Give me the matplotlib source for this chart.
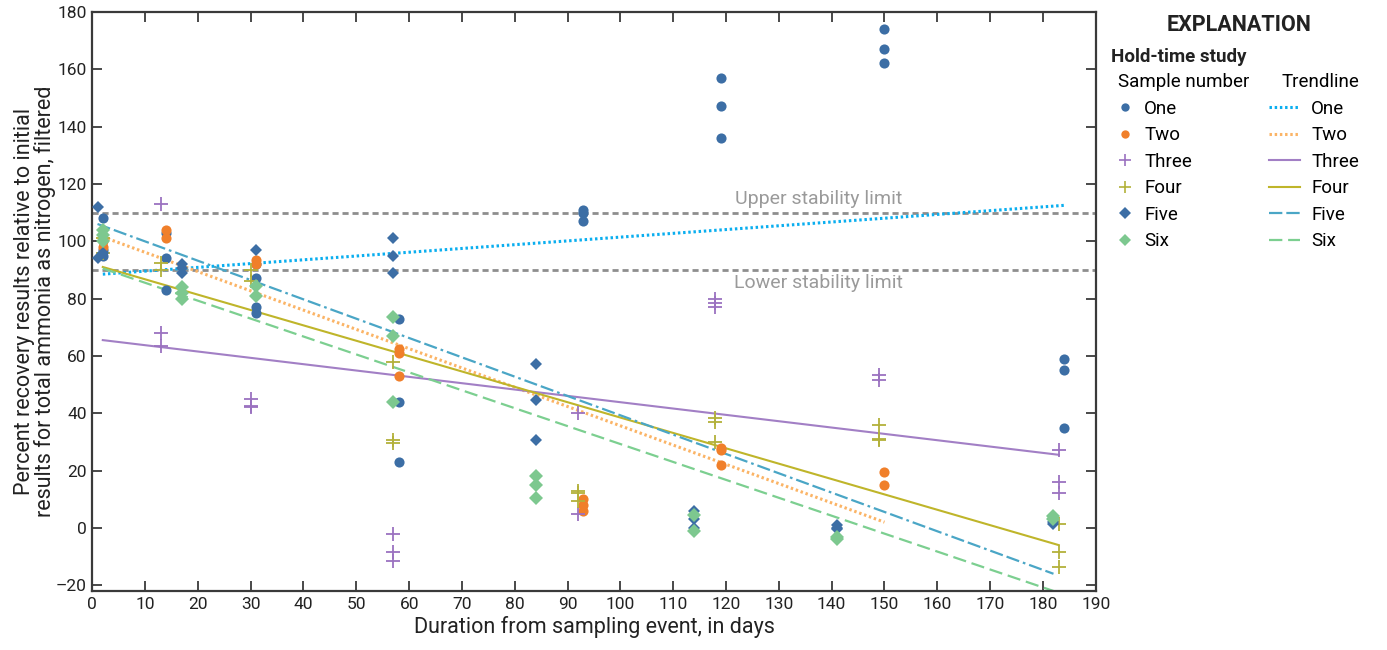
import matplotlib
matplotlib.use("Agg")
import matplotlib.pyplot as plt
from matplotlib.lines import Line2D
from matplotlib import font_manager

names = {f.name for f in font_manager.fontManager.ttflist}
FONT = ["Liberation Sans Narrow", "DejaVu Sans"] if "Liberation Sans Narrow" in names else ["Roboto", "DejaVu Sans"]
plt.rcParams["font.family"] = FONT

# ---- data ----
one_x = [2, 2, 2, 14, 14, 14, 31, 31, 31, 31, 58, 58, 58, 93, 93, 93, 119, 119, 119, 150, 150, 150, 184, 184, 184]
one_y = [108, 97, 95, 103, 94, 83, 92, 87, 77, 75, 73, 44, 23, 111, 110, 107, 157, 147, 136, 174, 167, 162, 59, 55, 35]

two_x = [2, 2, 14, 14, 31, 31, 58, 58, 58, 93, 93, 93, 119, 119, 119, 150, 150]
two_y = [100, 98, 104, 101, 93.5, 92, 62.5, 61, 53, 10, 8, 6, 28, 27, 22, 19.5, 15]

three_x = [13, 13, 13, 30, 30, 30, 57, 57, 57, 92, 92, 118, 118, 118, 149, 149, 183, 183, 183]
three_y = [113, 68, 63.5, 45, 42.5, 42, -2, -8.5, -11.5, 40, 5, 80, 78.5, 77, 53.5, 51.5, 27, 16, 12]

four_x = [2, 2, 13, 13, 30, 30, 57, 57, 57, 92, 92, 92, 118, 118, 118, 149, 149, 149, 183, 183, 183]
four_y = [101, 96, 92.5, 90, 90, 86, 58, 30.5, 29.5, 13, 12, 9.5, 38.5, 37, 30, 36, 31, 30.5, 1.5, -8.5, -13.5]

five_x = [1, 1, 2, 17, 17, 17, 31, 57, 57, 57, 84, 84, 84, 114, 114, 114, 141, 141, 141, 182, 182, 182]
five_y = [112, 94, 96, 92, 90.5, 89, 97, 101, 95, 89, 57, 44.5, 30.5, 6, 3, 0, 1, 0, -0.5, 3, 2, 1.5]

six_x = [2, 2, 2, 17, 17, 17, 31, 31, 57, 57, 57, 84, 84, 84, 114, 114, 141, 141, 182, 182]
six_y = [104, 102, 100, 84, 82, 80, 84.5, 81, 73.5, 67, 44, 18, 15, 10.5, 4.5, -1, -3, -4, 4, 3]

labels = ["One", "Two", "Three", "Four", "Five", "Six"]

# trendlines: start and end values
trend_x0 = [2, 2, 2, 2, 1, 2]
trend_x1 = [184, 150, 183, 183, 182, 182]
trend_y0 = [88.5, 101.5, 65.5, 91, 106, 90.5]
trend_y1 = [112.5, 2, 25.5, -6, -16, -22]

upper_limit = 110
lower_limit = 90

# ---- styles ----
pt_colors = ["#3c6ea5", "#f07f2a", "#9b72c0", "#b3b13a", "#3c6ea5", "#7dc88f"]
pt_markers = ["o", "o", "+", "+", "D", "D"]
pt_sizes = [7.3, 7.3, 9.5, 9.5, 6.3, 6.8]
tr_colors = ["#0aaeef", "#fbb466", "#a27fc5", "#bfb52a", "#4aa6c6", "#7ccf90"]
tr_styles = [(0, (0.8, 0.9)), (0, (0.8, 0.9)), "-", "-", (0, (6, 1.8, 6, 1.8, 1.2, 1.8)), (0, (6, 2.6))]
tr_widths = [2.2, 2.2, 1.5, 1.5, 1.6, 1.6]

xs = [one_x, two_x, three_x, four_x, five_x, six_x]
ys = [one_y, two_y, three_y, four_y, five_y, six_y]

fig = plt.figure(figsize=(13.87, 6.5), dpi=100)
ax = fig.add_axes([0.0665, 0.0908, 0.7235, 0.891])

ax.axhline(upper_limit, color="#8e8e8e", lw=2, ls=(0, (2.2, 1.4)), zorder=1)
ax.axhline(lower_limit, color="#8e8e8e", lw=2, ls=(0, (2.2, 1.4)), zorder=1)
ax.text(137.5, upper_limit + 1.5, "Upper stability limit", color="#9a9a9a", fontsize=14, ha="center", va="bottom")
ax.text(137.5, lower_limit - 1.5, "Lower stability limit", color="#9a9a9a", fontsize=14, ha="center", va="top")

pt_handles = []
tr_handles = []
for i in range(6):
    if pt_markers[i] == "+":
        ax.plot(xs[i], ys[i], ls="none", marker="+", ms=pt_sizes[i], mew=1.3, color=pt_colors[i], zorder=3)
        pt_handles.append(Line2D([], [], ls="none", marker="+", ms=8, mew=1.2, color=pt_colors[i]))
    else:
        ax.plot(xs[i], ys[i], ls="none", marker=pt_markers[i], ms=pt_sizes[i], mew=0,
                color=pt_colors[i], zorder=3)
        pt_handles.append(Line2D([], [], ls="none", marker=pt_markers[i], ms=6, mew=0, color=pt_colors[i]))
    ax.plot([trend_x0[i], trend_x1[i]], [trend_y0[i], trend_y1[i]], color=tr_colors[i],
            ls=tr_styles[i], lw=tr_widths[i], zorder=2)
    tr_handles.append(Line2D([], [], color=tr_colors[i], ls=tr_styles[i], lw=tr_widths[i]))

ax.set_xlim(0, 190)
ax.set_ylim(-22, 180)
ax.set_xticks(range(0, 191, 10))
ax.set_yticks(range(-20, 181, 20))
ax.set_yticklabels(["\u201320"] + [str(v) for v in range(0, 181, 20)])
ax.tick_params(direction="in", length=7.5, width=1.3, color="#3a3a3a", labelsize=12.5,
               top=True, right=True, labelcolor="#222222", pad=4)
for s in ax.spines.values():
    s.set_linewidth(1.6)
    s.set_color("#3a3a3a")

ax.set_xlabel("Duration from sampling event, in days", fontsize=15.5, color="#222222", labelpad=3)
ax.set_ylabel("Percent recovery results relative to initial\nresults for total ammonia as nitrogen, filtered",
              fontsize=15.5, color="#222222", labelpad=0, linespacing=0.95)

fig.text(0.893, 0.962, "EXPLANATION", fontsize=15.5, fontweight="bold", ha="center", va="center", color="#222222")
fig.text(0.801, 0.912, "Hold-time study", fontsize=13.5, fontweight="bold", ha="left", va="center", color="#222222")

leg1 = fig.legend(pt_handles, labels, title="Sample number", loc="upper left",
                  bbox_to_anchor=(0.806, 0.887), frameon=False, fontsize=13.5, title_fontsize=13.5,
                  handlelength=0.8, handletextpad=0.6, labelspacing=0.45, borderaxespad=0, borderpad=0)
leg1._legend_box.align = "left"
leg2 = fig.legend(tr_handles, labels, title="Trendline", loc="upper left",
                  bbox_to_anchor=(0.915, 0.887), frameon=False, fontsize=13.5, title_fontsize=13.5,
                  handlelength=1.65, handletextpad=0.6, labelspacing=0.45, borderaxespad=0, borderpad=0)
leg2._legend_box.align = "right"

fig.savefig("out.png", dpi=100)
